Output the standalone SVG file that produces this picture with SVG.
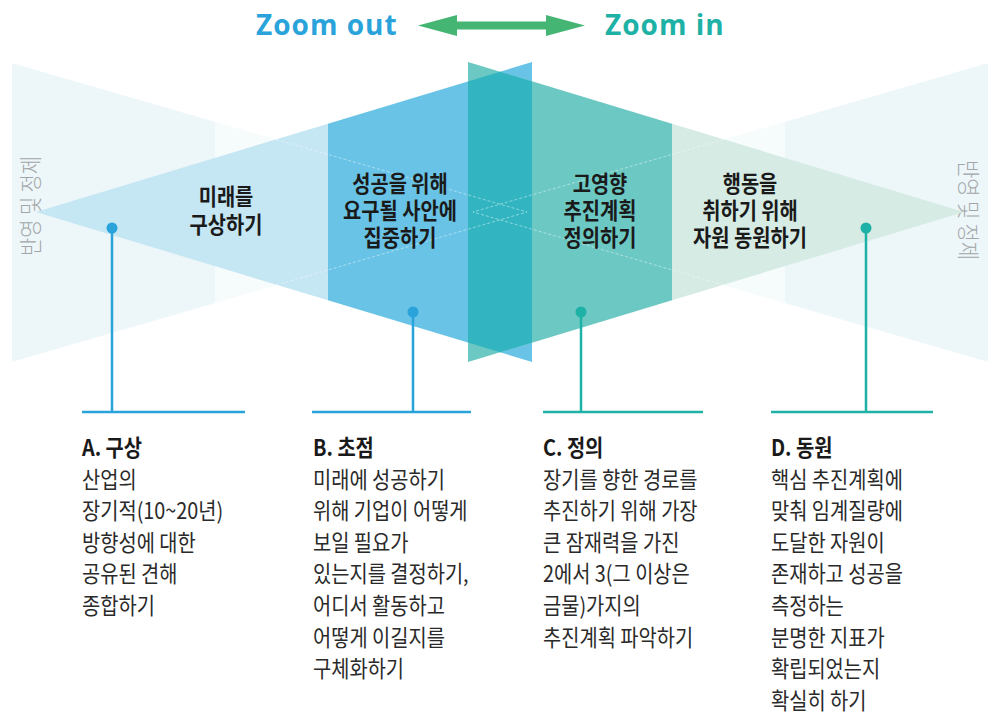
<svg xmlns="http://www.w3.org/2000/svg" width="990" height="717" viewBox="0 0 990 717">
<style>
.kr{font-family:'Noto Sans CJK KR','Noto Sans',sans-serif;}
.ptitle{font-size:22.5px;font-weight:700;fill:#1a1a1a;text-anchor:middle;}
.htitle{font-size:22.5px;font-weight:700;fill:#1a1a1a;}
.body{font-size:22.5px;font-weight:400;fill:#2a2a2a;}
.side{font-size:22.5px;font-weight:300;fill:#a3a6a8;text-anchor:middle;dominant-baseline:central;}
.zoom{font-family:'Open Sans','Noto Sans',sans-serif;font-weight:700;font-size:28px;letter-spacing:1px;}
.dash{stroke:#ffffff;stroke-opacity:0.55;stroke-width:0.8;stroke-dasharray:3 2;fill:none;}
.lb{stroke:#2aa3db;stroke-width:2.5;fill:none;}
.lt{stroke:#1eb1a6;stroke-width:2.5;fill:none;}
</style>
<rect width="990" height="717" fill="#ffffff"/>

<g id="header">
  <text class="zoom" x="256" y="35" fill="#2aa3db">Zoom out</text>
  <text class="zoom" x="605" y="35" fill="#1eb1a6">Zoom in</text>
  <polygon points="418,25.5 457,15 457,21.5 546,21.5 546,15 585,25.5 546,36 546,29.5 457,29.5 457,36" fill="#45b574"/>
</g>

<g id="reflect-left">
  <polygon points="12,63 215,121.7 215,303.3 12,362" fill="#edf6f9"/>
  <polygon points="215,121.7 527,212 215,303.3" fill="#f6fbfc"/>
  <text class="kr side" transform="translate(28.5,206) rotate(-90) scale(0.88,1)">반영 및 정제</text>
</g>
<g id="reflect-right">
  <polygon points="988,63 785,121.7 785,303.3 988,362" fill="#edf6f9"/>
  <polygon points="785,121.7 473,212 785,303.3" fill="#f6fbfc"/>
  <text class="kr side" transform="translate(970,210) rotate(90) scale(0.88,1)">반영 및 정제</text>
</g>

<g id="panel-a">
  <polygon points="36,212 328,123.7 328,300.3" fill="#c5e6f3"/>
</g>
<g id="panel-d">
  <polygon points="672,123.7 964,212 672,300.3" fill="#d5ebe4"/>
</g>
<g id="panel-b">
  <polygon points="328,123.7 532,62 532,362 328,300.3" fill="#69c3e6"/>
</g>
<g id="panel-c">
  <polygon points="468,62 672,123.7 672,300.3 468,362" fill="#6cc8c3"/>
</g>
<g id="overlap">
  <polygon points="468,81.4 500,71.7 532,81.4 532,342.6 500,352.3 468,342.6" fill="#32b5c1"/>
</g>

<g id="guides">
  <line class="dash" x1="12" y1="63" x2="527" y2="212"/>
  <line class="dash" x1="12" y1="362" x2="527" y2="212"/>
  <line class="dash" x1="988" y1="63" x2="473" y2="212"/>
  <line class="dash" x1="988" y1="362" x2="473" y2="212"/>
</g>

<g id="panel-labels" class="kr">
  <text class="ptitle" transform="matrix(0.88 0 0 1 27.12 0)" x="226" y="205">미래를<tspan x="226" dy="28">구상하기</tspan></text>
  <text class="ptitle" transform="matrix(0.88 0 0 1 48 0)" x="400" y="192">성공을 위해<tspan x="400" dy="27">요구될 사안에</tspan><tspan x="400" dy="27">집중하기</tspan></text>
  <text class="ptitle" transform="matrix(0.88 0 0 1 72 0)" x="600" y="192">고영향<tspan x="600" dy="27">추진계획</tspan><tspan x="600" dy="27">정의하기</tspan></text>
  <text class="ptitle" transform="matrix(0.88 0 0 1 90 0)" x="750" y="192">행동을<tspan x="750" dy="27">취하기 위해</tspan><tspan x="750" dy="27">자원 동원하기</tspan></text>
</g>

<g id="connectors">
  <circle cx="112" cy="228" r="5.5" fill="#2aa3db"/>
  <path class="lb" d="M112,228 V412 M82,412 H245"/>
  <circle cx="413" cy="312" r="5.5" fill="#2aa3db"/>
  <path class="lb" d="M413,312 V412 M312,412 H471"/>
  <circle cx="581" cy="312" r="5.5" fill="#1eb1a6"/>
  <path class="lt" d="M581,312 V412 M543,412 H703"/>
  <circle cx="866" cy="228" r="5.5" fill="#1eb1a6"/>
  <path class="lt" d="M866,228 V412 M771,412 H933"/>
</g>

<g id="desc-a" class="kr" transform="matrix(0.88 0 0 1 9.84 0)">
  <text class="htitle" x="82" y="456">A. 구상</text>
  <text class="body" x="82" y="487.6">산업의<tspan x="82" dy="31.6">장기적(10~20년)</tspan><tspan x="82" dy="31.6">방향성에 대한</tspan><tspan x="82" dy="31.6">공유된 견해</tspan><tspan x="82" dy="31.6">종합하기</tspan></text>
</g>
<g id="desc-b" class="kr" transform="matrix(0.88 0 0 1 37.56 0)">
  <text class="htitle" x="313" y="456">B. 초점</text>
  <text class="body" x="313" y="487.6">미래에 성공하기<tspan x="313" dy="31.6">위해 기업이 어떻게</tspan><tspan x="313" dy="31.6">보일 필요가</tspan><tspan x="313" dy="31.6">있는지를 결정하기,</tspan><tspan x="313" dy="31.6">어디서 활동하고</tspan><tspan x="313" dy="31.6">어떻게 이길지를</tspan><tspan x="313" dy="31.6">구체화하기</tspan></text>
</g>
<g id="desc-c" class="kr" transform="matrix(0.88 0 0 1 65.16 0)">
  <text class="htitle" x="543" y="456">C. 정의</text>
  <text class="body" x="543" y="487.6">장기를 향한 경로를<tspan x="543" dy="31.6">추진하기 위해 가장</tspan><tspan x="543" dy="31.6">큰 잠재력을 가진</tspan><tspan x="543" dy="31.6">2에서 3(그 이상은</tspan><tspan x="543" dy="31.6">금물)가지의</tspan><tspan x="543" dy="31.6">추진계획 파악하기</tspan></text>
</g>
<g id="desc-d" class="kr" transform="matrix(0.88 0 0 1 92.52 0)">
  <text class="htitle" x="771" y="456">D. 동원</text>
  <text class="body" x="771" y="487.6">핵심 추진계획에<tspan x="771" dy="31.6">맞춰 임계질량에</tspan><tspan x="771" dy="31.6">도달한 자원이</tspan><tspan x="771" dy="31.6">존재하고 성공을</tspan><tspan x="771" dy="31.6">측정하는</tspan><tspan x="771" dy="31.6">분명한 지표가</tspan><tspan x="771" dy="31.6">확립되었는지</tspan><tspan x="771" dy="31.6">확실히 하기</tspan></text>
</g>
</svg>
